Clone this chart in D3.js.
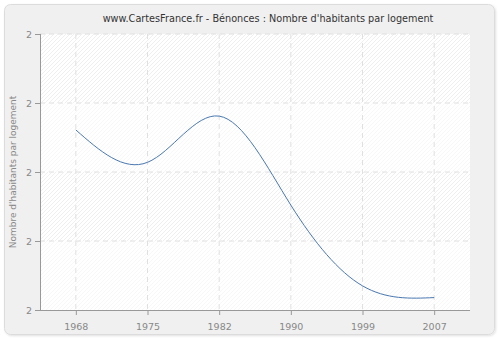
<!DOCTYPE html>
<html><head><meta charset="utf-8">
<script src="https://cdn.jsdelivr.net/npm/d3@7"></script>
<style>body{margin:0;background:#fff}svg{display:block}</style>
</head><body>
<script>
const years = ["1968","1975","1982","1990","1999","2007"];
const values = [2.261, 2.214, 2.281, 2.152, 2.035, 2.018];
const yTicks = [2.0, 2.1, 2.2, 2.3, 2.4];
const title = "www.CartesFrance.fr - Bénonces : Nombre d'habitants par logement";
const yLabel = "Nombre d'habitants par logement";

const W = 500, H = 340;
const m = {left: 40, right: 30, top: 34, bottom: 30};
const svg = d3.select("body").append("svg").attr("width", W).attr("height", H);
const defs = svg.append("defs");
const f = defs.append("filter").attr("id","sh").attr("x","-5%").attr("y","-5%").attr("width","110%").attr("height","110%");
f.append("feDropShadow").attr("dx",1).attr("dy",1).attr("stdDeviation",1.2).attr("flood-color","#000").attr("flood-opacity",0.12);

svg.append("rect").attr("x",4.5).attr("y",4.5).attr("width",490).attr("height",330)
  .attr("rx",6).attr("fill","#f0f0f0").attr("stroke","#dcdcdc").attr("filter","url(#sh)");

function pat(id, col) {
  const p = defs.append("pattern").attr("id", id).attr("patternUnits","userSpaceOnUse")
    .attr("width",4).attr("height",4);
  p.append("rect").attr("width",4).attr("height",4).attr("fill","#fff");
  p.append("path").attr("d","M-1,1 L1,-1 M0,4 L4,0 M3,5 L5,3").attr("stroke",col).attr("stroke-width",0.7);
}
pat("h1","#e8e8e8");
pat("h2","#f3f3f3");

const x = d3.scalePoint().domain(years).range([m.left, W - m.right]).padding(0.5);
const y = d3.scaleLinear().domain([2.0, 2.4]).range([H - m.bottom, m.top]);

for (let i = 0; i < yTicks.length - 1; i++) {
  svg.append("rect").attr("x", m.left).attr("y", y(yTicks[i+1]))
    .attr("width", W - m.right - m.left).attr("height", y(yTicks[i]) - y(yTicks[i+1]))
    .attr("fill", i % 2 === 0 ? "url(#h2)" : "url(#h1)");
}

const g = svg.append("g");
g.selectAll(".vg").data(years).join("line")
  .attr("x1", d => x(d)).attr("x2", d => x(d)).attr("y1", m.top).attr("y2", H - m.bottom)
  .attr("stroke","#e0e0e0").attr("stroke-dasharray","5,4");
g.selectAll(".hg").data(yTicks.slice(1)).join("line")
  .attr("x1", m.left).attr("x2", W - m.right).attr("y1", d => y(d)).attr("y2", d => y(d))
  .attr("stroke","#e0e0e0").attr("stroke-dasharray","5,4");

const line = d3.line().x((d,i) => x(years[i])).y(d => y(d)).curve(d3.curveNatural);
svg.append("path").datum(values).attr("d", line).attr("fill","none")
  .attr("stroke","#4a78b0").attr("stroke-width",1);

const xa = svg.append("g").attr("transform", `translate(0,${H - m.bottom})`)
  .call(d3.axisBottom(x).tickSize(5).tickSizeOuter(0));
const ya = svg.append("g").attr("transform", `translate(${m.left},0)`)
  .call(d3.axisLeft(y).tickValues(yTicks).tickFormat(d3.format(".0f")).tickSize(5).tickSizeOuter(0));
[xa, ya].forEach(a => {
  a.select(".domain").attr("stroke","#999");
  a.selectAll(".tick line").attr("stroke","#999");
  a.selectAll("text").attr("fill","#888").attr("font-family","DejaVu Sans, Verdana, sans-serif").attr("font-size",9.5);
});
xa.selectAll("text").attr("dy","1.3em");
ya.select(".domain").attr("d", `M0.5,${m.top}V${H - m.bottom}`);
xa.select(".domain").attr("d", `M${m.left},0.5H${W - m.right}`);

svg.append("text").attr("x", 268).attr("y", 22).attr("text-anchor","middle")
  .attr("font-family","DejaVu Sans, Verdana, sans-serif").attr("font-size",9.7).attr("fill","#333")
  .text(title);
svg.append("text").attr("transform", `translate(16,${(m.top + H - m.bottom)/2}) rotate(-90)`)
  .attr("text-anchor","middle").attr("font-family","DejaVu Sans, Verdana, sans-serif")
  .attr("font-size",9).attr("fill","#888").text(yLabel);
</script>
</body></html>
